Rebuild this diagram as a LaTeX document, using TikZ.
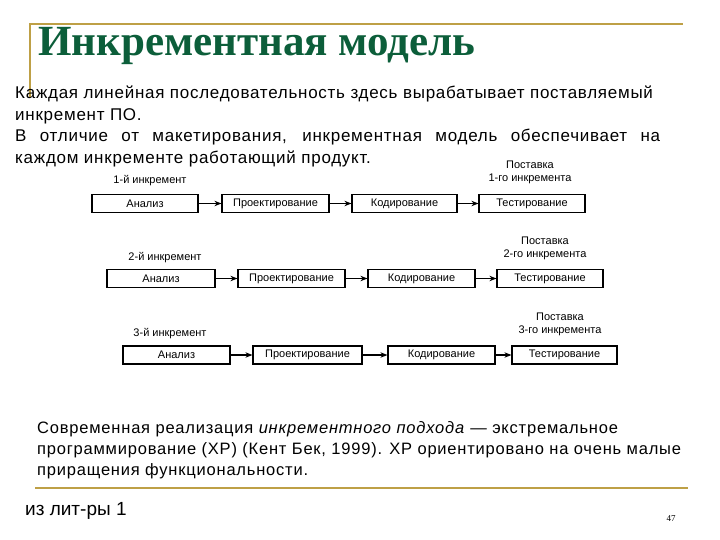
\documentclass[tikz,border=0pt]{standalone}
\usepackage{fontspec}
\setmainfont{Liberation Sans}
\newfontfamily\titlefont{Liberation Serif}
\newfontfamily\spacedfont[LetterSpace=4.3]{Liberation Sans}
\newfontfamily\spacedfontb[LetterSpace=4.8]{Liberation Sans}
\usetikzlibrary{arrows.meta}
\definecolor{titlegreen}{RGB}{12,94,58}
\definecolor{gold}{RGB}{190,160,70}
\tikzset{
  stage/.style={draw=black, line width=1.2pt, minimum height=18pt, inner sep=0pt, font=\fontsize{11}{13}\selectfont},
  flow/.style={-{Stealth[length=7pt,width=5.5pt]}, line width=1.1pt},
  lbl/.style={font=\fontsize{11}{13}\selectfont, align=center, inner sep=0pt},
  body/.style={anchor=base west, inner sep=0pt, font=\spacedfont\fontsize{17}{20}\selectfont},
  lower/.style={anchor=base west, inner sep=0pt, font=\spacedfontb\fontsize{16.5}{20}\selectfont},
}
\begin{document}
\begin{tikzpicture}[x=1pt,y=-1pt]
\useasboundingbox[fill=white] (0,0) rectangle (720,540);
% title frame
\draw[gold, line width=1.5pt] (30,97) -- (30,24) -- (683,24);
\node[anchor=base west, inner sep=0pt, text=titlegreen, font=\titlefont\bfseries\fontsize{43}{46}\selectfont] (title) at (38,56) {Инкрементная модель};
% intro text
\node[body] (t1) at (15,99) {Каждая линейная последовательность здесь вырабатывает поставляемый};
\node[body] (t2) at (15,121) {инкремент ПО.};
\node[body] (t3) at (15,142) {\makebox[645pt][s]{В отличие от макетирования, инкрементная модель обеспечивает на}};
\node[body] (t4) at (15,164) {каждом инкременте работающий продукт.};
% row 1
\node[stage, minimum width=106pt] (a1) at (145,203.5) {Анализ};
\node[stage, minimum width=107pt] (p1) at (275.5,203.5) {Проектирование};
\node[stage, minimum width=105pt] (k1) at (404.5,203.5) {Кодирование};
\node[stage, minimum width=106pt] (s1) at (532,203.5) {Тестирование};
\draw[flow] (a1) -- (p1);
\draw[flow] (p1) -- (k1);
\draw[flow] (k1) -- (s1);
\node[lbl] (l1) at (150,181) {1-й инкремент};
\node[lbl] (d1) at (530,172) {Поставка\\1-го инкремента};
% row 2
\node[stage, minimum width=108pt] (a2) at (161,278.5) {Анализ};
\node[stage, minimum width=107pt] (p2) at (291.5,278.5) {Проектирование};
\node[stage, minimum width=107pt] (k2) at (421.5,278.5) {Кодирование};
\node[stage, minimum width=106pt] (s2) at (550,278.5) {Тестирование};
\draw[flow] (a2) -- (p2);
\draw[flow] (p2) -- (k2);
\draw[flow] (k2) -- (s2);
\node[lbl] (l2) at (165,258) {2-й инкремент};
\node[lbl] (d2) at (545,248) {Поставка\\2-го инкремента};
% row 3
\node[stage, minimum width=107pt] (a3) at (176.5,355) {Анализ};
\node[stage, minimum width=109pt] (p3) at (307.5,355) {Проектирование};
\node[stage, minimum width=107pt] (k3) at (441.5,355) {Кодирование};
\node[stage, minimum width=105pt] (s3) at (564.5,355) {Тестирование};
\draw[flow] (a3) -- (p3);
\draw[flow] (p3) -- (k3);
\draw[flow] (k3) -- (s3);
\node[lbl] (l3) at (170,334) {3-й инкремент};
\node[lbl] (d3) at (560,324) {Поставка\\3-го инкремента};
% bottom text
\node[lower] (b1) at (37,433) {Современная реализация \textit{инкрементного подхода} — экстремальное};
\node[lower] (b2) at (37,454) {программирование (XP) (Кент Бек, 1999). XP ориентировано на очень малые};
\node[lower] (b3) at (37,475) {приращения функциональности.};
\draw[gold, line width=2pt] (35,488) -- (688,488);
\node[anchor=base west, inner sep=0pt, font=\fontsize{19}{22}\selectfont] (src) at (25,515) {из лит-ры 1};
\node[anchor=base, inner sep=0pt, font=\titlefont\fontsize{9}{10}\selectfont] (pg) at (671,521) {47};
\end{tikzpicture}
\end{document}
